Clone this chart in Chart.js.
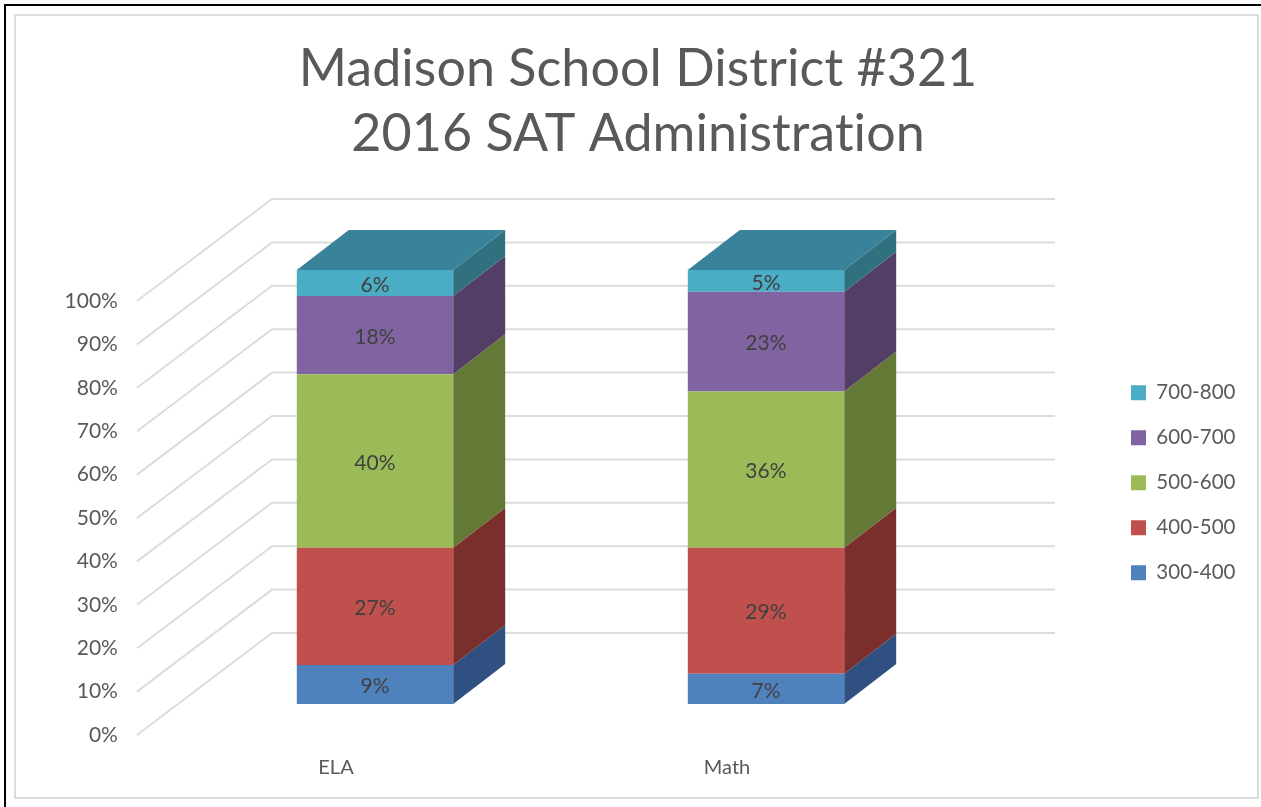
<!DOCTYPE html>
<html>
<head>
<meta charset="utf-8">
<style>
html,body{margin:0;padding:0;background:#fff;width:1261px;height:807px;overflow:hidden}
#outer{position:absolute;left:4px;top:4px;width:1257px;height:803px;border-left:2px solid #000;border-top:2px solid #000;box-sizing:border-box}
#inner{position:absolute;left:14px;top:14px;width:1245px;height:785px;border:2px solid #dcdcdc;box-sizing:border-box}
canvas{position:absolute;left:0;top:0}
</style>
<script src="https://cdn.jsdelivr.net/npm/chart.js@4"></script>
</head>
<body>
<div id="outer"></div>
<div id="inner"></div>
<canvas id="c" width="1261" height="807"></canvas>
<script>
const categories = ["ELA", "Math"];
const band300 = [9, 7];
const band400 = [27, 29];
const band500 = [40, 36];
const band600 = [18, 23];
const band700 = [6, 5];
const bandNames = ["300-400", "400-500", "500-600", "600-700", "700-800"];
const titleLines = ["Madison School District #321", "2016 SAT Administration"];

const frontColors = ["#4F81BD", "#C0504D", "#9BBB59", "#8064A2", "#4BACC6"];
const sideColors = ["#2F5080", "#7A2F2D", "#647935", "#533F66", "#31707F"];
const topColor = "#38829A";
const DEPTH_X = 52, DEPTH_Y = 40;
const WALL_X = 135, WALL_Y = 102, WALL_RIGHT = 1055;
const fontFamily = "Lato, 'Open Sans', sans-serif";

const cube = {
  id: "cube",
  afterLayout(chart) {
    const l = chart.legend;
    l.left = 1106.5; l.right = 1261;
    l.top = 358; l.bottom = 807;
    l.adjustHitBoxes && l.adjustHitBoxes();
  },
  beforeDraw(chart) {
    chart.ctx.letterSpacing = "0.05px";
  },
  beforeDatasetsDraw(chart) {
    const { ctx } = chart;
    const ys = chart.scales.yLabel;
    const left = ys.left + ys.width - 42.5;
    ctx.save();
    ctx.strokeStyle = "#DCDCDC";
    ctx.lineWidth = 2;
    for (let v = 0; v <= 100; v += 10) {
      const y = ys.getPixelForValue(v);
      ctx.beginPath();
      ctx.moveTo(left, y);
      ctx.lineTo(left + WALL_X, y - WALL_Y);
      ctx.lineTo(WALL_RIGHT, y - WALL_Y);
      ctx.stroke();
    }
    const n = chart.data.datasets.length;
    chart.data.datasets.forEach((ds, i) => {
      chart.getDatasetMeta(i).data.forEach(el => {
        const r = el.x + el.width / 2, l = el.x - el.width / 2;
        ctx.fillStyle = sideColors[i];
        ctx.beginPath();
        ctx.moveTo(r, el.y);
        ctx.lineTo(r + DEPTH_X, el.y - DEPTH_Y);
        ctx.lineTo(r + DEPTH_X, el.base - DEPTH_Y);
        ctx.lineTo(r, el.base);
        ctx.closePath();
        ctx.fill();
        if (i === n - 1) {
          ctx.fillStyle = topColor;
          ctx.beginPath();
          ctx.moveTo(l, el.y);
          ctx.lineTo(l + DEPTH_X, el.y - DEPTH_Y);
          ctx.lineTo(r + DEPTH_X, el.y - DEPTH_Y);
          ctx.lineTo(r, el.y);
          ctx.closePath();
          ctx.fill();
        }
      });
    });
    ctx.restore();
  },
  afterDatasetsDraw(chart) {
    const { ctx } = chart;
    ctx.save();
    ctx.fillStyle = "#404040";
    ctx.font = "21px " + fontFamily;
    ctx.textAlign = "center";
    ctx.textBaseline = "middle";
    chart.data.datasets.forEach((ds, i) => {
      chart.getDatasetMeta(i).data.forEach((el, j) => {
        ctx.fillText(ds.data[j] + "%", el.x, (el.y + el.base) / 2 + 2);
      });
    });
    ctx.restore();
  }
};

new Chart(document.getElementById("c"), {
  type: "bar",
  data: {
    labels: categories,
    datasets: [band300, band400, band500, band600, band700].map((d, i) => ({
      label: bandNames[i],
      data: d,
      backgroundColor: frontColors[i],
      borderWidth: 0,
      barPercentage: 0.4,
      categoryPercentage: 1
    }))
  },
  plugins: [cube],
  options: {
    responsive: false,
    animation: false,
    layout: { padding: { left: 15 } },
    plugins: {
      tooltip: { enabled: false },
      title: {
        display: true,
        text: titleLines,
        color: "#595959",
        font: { family: fontFamily, size: 52, weight: "normal", lineHeight: 1.25 },
        padding: { top: 36.5, bottom: 32.5 }
      },
      legend: {
        position: "chartArea",
        align: "start",
        reverse: true,
        labels: {
          boxWidth: 15, boxHeight: 15, padding: 24.5,
          color: "#595959",
          font: { family: fontFamily, size: 20.5 }
        }
      }
    },
    scales: {
      x: {
        stacked: true,
        grid: { display: false },
        border: { display: false },
        ticks: { color: "#595959", font: { family: fontFamily, size: 20 }, labelOffset: -39, padding: 13, maxRotation: 0 },
        afterFit(s) { s.height = 72; }
      },
      y: {
        stacked: true,
        position: "right",
        min: -7.14,
        max: 116.36,
        grid: { display: false },
        border: { display: false },
        ticks: { display: false },
        afterFit(s) { s.width = 299.5; s.paddingTop = 0; s.paddingBottom = 0; }
      },
      yLabel: {
        position: "left",
        min: 0,
        max: 123.5,
        grid: { display: false },
        border: { display: false },
        ticks: {
          stepSize: 10,
          autoSkip: false,
          includeBounds: false,
          padding: 53.5,
          color: "#595959",
          font: { family: fontFamily, size: 21 },
          callback: v => (v <= 100 ? v + "%" : "")
        },
        afterFit(s) { s.width = 164.5; s.paddingTop = 0; s.paddingBottom = 0; }
      }
    }
  }
});
</script>
</body>
</html>
